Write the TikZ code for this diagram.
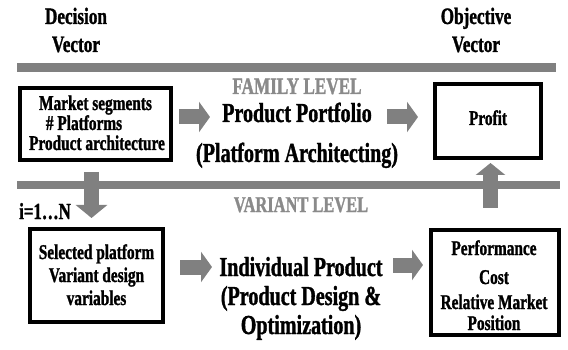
\documentclass[tikz,border=0pt]{standalone}
\usepackage{fontspec}
\setmainfont{Liberation Serif}[FakeStretch=0.73, BoldFeatures={FakeBold=1.2}]
\usetikzlibrary{arrows.meta}
\definecolor{bargray}{HTML}{808080}
\definecolor{labelgray}{HTML}{8A8A8A}
\tikzset{
  barline/.style={line width=9pt, bargray},
  blockarrow/.style={line width=15pt, bargray, -{Triangle[length=11pt,width=30pt]}},
  framebox/.style={draw, line width=4.2pt, inner sep=0pt},
  txt/.style={anchor=base, inner sep=0pt, font=\bfseries\fontsize{#1}{#1}\selectfont},
  txt/.default=21,
  level/.style={anchor=base, inner sep=0pt, text=labelgray, font=\bfseries\fontsize{23.5}{23.5}\selectfont}
}
\begin{document}
\begin{tikzpicture}[x=1pt, y=-1pt]
\useasboundingbox (0,0) rectangle (568,350);

% column headings
\node[txt=23.5] (dv1) at (76,24) {Decision};
\node[txt=23.5] (dv2) at (76,52) {Vector};
\node[txt=23.5] (ov1) at (476,24) {Objective};
\node[txt=23.5] (ov2) at (476,52) {Vector};

% level separators
\coordinate (topL) at (17,67.5);
\coordinate (topR) at (556,67.5);
\coordinate (midL) at (17,185);
\coordinate (midR) at (560,185);
\draw[barline] (topL) -- (topR);
\draw[barline, line width=8pt] (midL) -- (midR);

\node[level] (fam) at (297,94) {FAMILY LEVEL};
\node[level, font=\bfseries\fontsize{22.5}{22.5}\selectfont] (var) at (301,212) {VARIANT LEVEL};

% family level
\node[framebox, minimum width=151pt, minimum height=72pt] (b1) at (95.5,124) {};
\node[txt] (b1a) at (95.5,110) {Market segments};
\node[txt] (b1b) at (84,130) {\# Platforms};
\node[txt] (b1c) at (97,150) {Product architecture};

\node[txt=27.5] (pp) at (297,122) {Product Portfolio};
\node[txt=27.5] (pa) at (297,162) {(Platform Architecting)};

\node[framebox, minimum width=106pt, minimum height=74pt] (b2) at (488,121) {};
\node[txt] (b2a) at (488,125) {Profit};

% variant level
\node[framebox, minimum width=133pt, minimum height=93pt] (b3) at (96.5,275.5) {};
\node[txt] (b3a) at (96.5,259) {Selected platform};
\node[txt] (b3b) at (96.5,282) {Variant design};
\node[txt] (b3c) at (96.5,305) {variables};

\node[txt=27.5] (ip1) at (301,276) {Individual Product};
\node[txt=27.5] (ip2) at (301,305) {(Product Design \&};
\node[txt=27.5] (ip3) at (301,334) {Optimization)};

\node[framebox, minimum width=128pt, minimum height=105pt] (b4) at (495,282.5) {};
\node[txt] (b4a) at (494,255) {Performance};
\node[txt] (b4b) at (494,284) {Cost};
\node[txt] (b4c) at (494,309) {Relative Market};
\node[txt] (b4d) at (494,330) {Position};

\node[txt=23] (iter) at (45,219) {i=1\ldots N};

% block arrows
\coordinate (a1s) at (179,117);  \coordinate (a1e) at (210,117);
\coordinate (a2s) at (387,117);  \coordinate (a2e) at (418,117);
\coordinate (a3s) at (180,267);  \coordinate (a3e) at (212,267);
\coordinate (a4s) at (393,265);  \coordinate (a4e) at (423,265);
\coordinate (dns) at (91.5,172); \coordinate (dne) at (91.5,218);
\coordinate (ups) at (490.5,208); \coordinate (upe) at (490.5,163);
\draw[blockarrow] (a1s) -- (a1e);
\draw[blockarrow] (a2s) -- (a2e);
\draw[blockarrow] (a3s) -- (a3e);
\draw[blockarrow] (a4s) -- (a4e);
\draw[blockarrow, -{Triangle[length=13pt,width=31pt]}] (dns) -- (dne);
\draw[blockarrow, -{Triangle[length=12pt,width=29pt]}] (ups) -- (upe);
\end{tikzpicture}
\end{document}
